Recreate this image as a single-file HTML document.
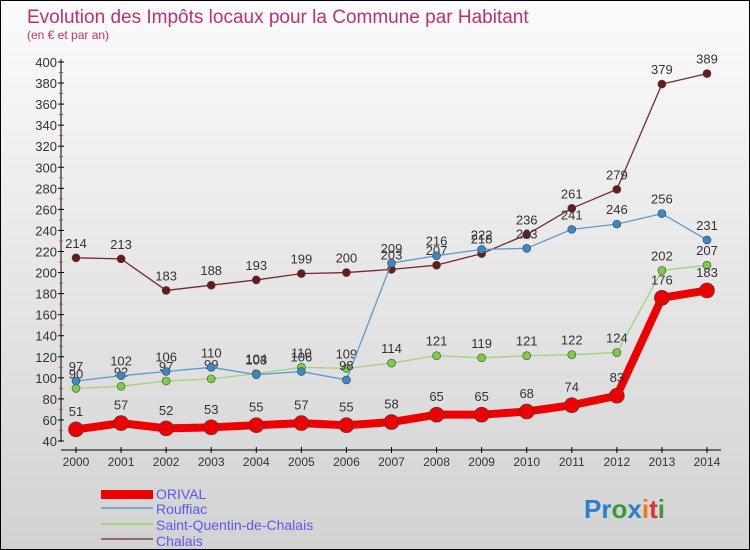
<!DOCTYPE html>
<html><head><meta charset="utf-8"><style>
body{margin:0;}
#c{width:748px;height:548px;border:1px solid #000;background:linear-gradient(#fbfbfb,#d2d2d2);position:relative;font-family:"Liberation Sans",sans-serif;overflow:hidden}
</style></head><body>
<div id="c">
<svg id="s" width="748" height="548" style="position:absolute;left:0;top:0">
<text x="26" y="22" font-size="19" fill="#c0306a">Evolution des Impôts locaux pour la Commune par Habitant</text>
<text x="26" y="38" font-size="12" fill="#c0306a">(en € et par an)</text>
<g id="axes"></g><g id="series"></g>
<g>
<rect x="100" y="489" width="52" height="9" fill="#e00"/>
<text x="155" y="498" font-size="14" fill="#5a5aee">ORIVAL</text>
<rect x="100" y="506" width="52" height="2" fill="#7aa7c7"/>
<text x="155" y="513" font-size="14" fill="#5a5aee">Rouffiac</text>
<rect x="100" y="522" width="52" height="2" fill="#9ed47a"/>
<text x="155" y="529" font-size="14" fill="#5a5aee">Saint-Quentin-de-Chalais</text>
<rect x="100" y="537" width="52" height="2" fill="#8a6a6a"/>
<text x="155" y="545" font-size="14" fill="#5a5aee">Chalais</text>
</g>
<text x="583" y="517" font-size="26" font-weight="bold"><tspan fill="#2a7fd0">Pr</tspan><tspan fill="#3a9a3a">o</tspan><tspan fill="#2a7fd0">x</tspan><tspan fill="#f07a10">i</tspan><tspan fill="#e03030">t</tspan><tspan fill="#3a9a3a">i</tspan></text>
</svg></div>
<script>
const years=[2000,2001,2002,2003,2004,2005,2006,2007,2008,2009,2010,2011,2012,2013,2014];
const orival=[51,57,52,53,55,57,55,58,65,65,68,74,83,176,183];
const rouffiac=[97,102,106,110,103,106,98,209,216,222,223,241,246,256,231];
const saintQuentin=[90,92,97,99,104,110,109,114,121,119,121,122,124,202,207];
const chalais=[214,213,183,188,193,199,200,203,207,218,236,261,279,379,389];
const yTicks=[40,60,80,100,120,140,160,180,200,220,240,260,280,300,320,340,360,380,400];
const NS="http://www.w3.org/2000/svg";
const X=i=>75+i*45.07, Y=v=>440-(v-40)*1.0528;
function mk(t,a,p){const e=document.createElementNS(NS,t);for(const k in a)e.setAttribute(k,a[k]);p.appendChild(e);return e;}
const ax=document.getElementById('axes'),sg=document.getElementById('series');
const yl=mk('line',{x1:60,y1:58,x2:60,y2:441,stroke:'#000'},ax);


const xl=mk('line',{x1:60,y1:449,x2:720,y2:449,stroke:'#000'},ax);


yTicks.forEach(v=>{mk('line',{x1:57,x2:63,y1:Y(v),y2:Y(v),stroke:'#000'},ax);
if(v<400)mk('line',{x1:58,x2:62,y1:Y(v+10),y2:Y(v+10),stroke:'#e33'},ax);
const t=mk('text',{x:56,y:Y(v)+5,'text-anchor':'end','font-size':13,fill:'#333'},ax);t.textContent=v;

});
years.forEach((y,i)=>{mk('line',{x1:X(i),x2:X(i),y1:446,y2:452,stroke:'#000'},ax);
const t=mk('text',{x:X(i),y:465,'text-anchor':'middle','font-size':12,fill:'#333'},ax);t.textContent=y;

});
function series(d,name,col,w,r,dot){const g=mk('g',{},sg);


mk('polyline',{points:d.map((v,i)=>X(i)+','+Y(v)).join(' '),fill:'none',stroke:col,'stroke-width':w,'stroke-linejoin':'round'},g);
d.forEach((v,i)=>{const c=mk('circle',{cx:X(i),cy:Y(v),r:r,fill:dot,stroke:'#444','stroke-width':0.6},g);


const t=mk('text',{x:X(i),y:Y(v)-r-6,'text-anchor':'middle','font-size':13,fill:'#333'},g);t.textContent=v;

});}
series(chalais,'chalais','#7a2a2a',1.3,4,'#6a1a1a');
series(saintQuentin,'saint-quentin','#9ed47a',1.3,4,'#7ccc44');
series(rouffiac,'rouffiac','#5a9ad0',1.3,4,'#3a88c8');
series(orival,'orival','#e00',8,7.5,'#e00');
</script></body></html>
